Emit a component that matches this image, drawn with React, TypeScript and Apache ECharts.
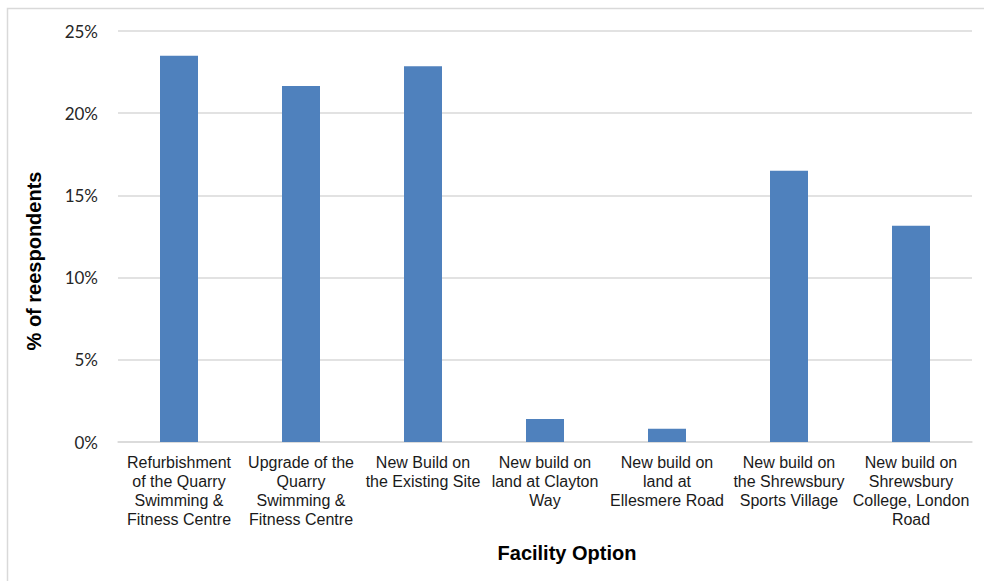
import React, { useEffect, useRef } from "react";
import * as echarts from "echarts";

const categories = [
  "Refurbishment\nof the Quarry\nSwimming &\nFitness Centre",
  "Upgrade of the\nQuarry\nSwimming &\nFitness Centre",
  "New Build on\nthe Existing Site",
  "New build on\nland at Clayton\nWay",
  "New build on\nland at\nEllesmere Road",
  "New build on\nthe Shrewsbury\nSports Village",
  "New build on\nShrewsbury\nCollege, London\nRoad",
];
const values = [23.5, 21.65, 22.85, 1.4, 0.8, 16.5, 13.15];
const yTicks = [0, 5, 10, 15, 20, 25];
const xTitle = "Facility Option";
const yTitle = "% of reespondents";

export default function App() {
  const ref = useRef<HTMLDivElement>(null);
  useEffect(() => {
    if (!ref.current) return;
    const chart = echarts.init(ref.current, undefined, { renderer: "svg" });
    const titleStyle = {
      fontFamily: "Liberation Sans, Arial, sans-serif",
      fontWeight: "bold",
      fontSize: 20,
      fill: "#000",
      align: "center",
      verticalAlign: "middle",
    };
    chart.setOption({
      animation: false,
      backgroundColor: "#ffffff",
      graphic: [
        {
          type: "rect",
          shape: { x: 7.5, y: 8.5, width: 1000, height: 600 },
          style: { fill: "none", stroke: "#d9d9d9", lineWidth: 1.5 },
          silent: true,
        },
        {
          type: "text",
          x: 567,
          y: 553,
          style: { ...titleStyle, text: xTitle },
          silent: true,
        },
        {
          type: "text",
          x: 34,
          y: 261,
          rotation: Math.PI / 2,
          style: { ...titleStyle, text: yTitle },
          silent: true,
        },
      ],
      grid: { left: 118, right: 12, top: 31, bottom: 139, containLabel: false },
      xAxis: {
        type: "category",
        data: categories,
        axisTick: { show: false },
        axisLine: { show: true, lineStyle: { color: "#d9d9d9", width: 1.5 } },
        axisLabel: {
          interval: 0,
          margin: 11,
          fontFamily: "Liberation Sans, Arial, sans-serif",
          fontSize: 16,
          lineHeight: 19,
          color: "#1a1a1a",
          align: "center",
        },
      },
      yAxis: {
        type: "value",
        min: 0,
        max: 25,
        interval: 5,
        axisLine: { show: false },
        axisTick: { show: false },
        splitLine: { lineStyle: { color: "#d9d9d9", width: 1.5 } },
        axisLabel: {
          margin: 20,
          fontFamily: "Lato, Carlito, sans-serif",
          fontSize: 17,
          color: "#262626",
          formatter: (v: number) => (yTicks.includes(v) ? `${v}%` : ""),
        },
      },
      series: [
        {
          type: "bar",
          data: values,
          barWidth: 38,
          itemStyle: { color: "#4f81bd" },
        },
      ],
    });
    return () => chart.dispose();
  }, []);
  return (
    <div
      ref={ref}
      style={{ position: "fixed", left: 0, top: 0, width: 984, height: 581 }}
    />
  );
}
